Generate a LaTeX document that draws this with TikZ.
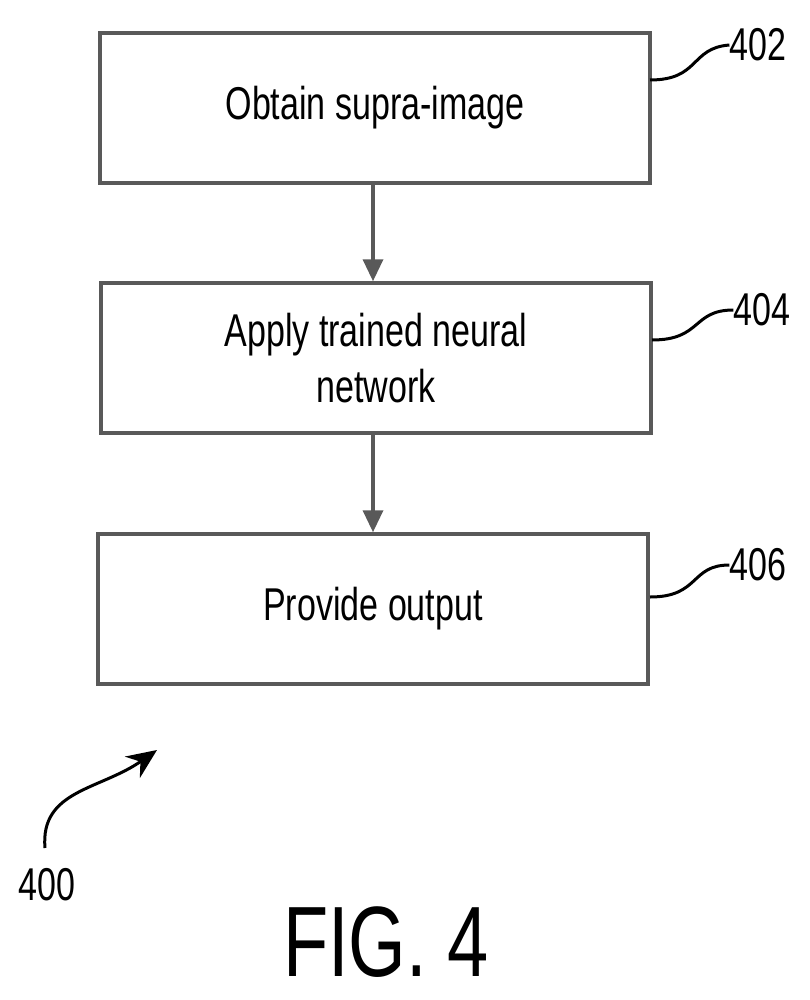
\documentclass[tikz,border=0pt]{standalone}
\usepackage{fontspec}
\setmainfont{Liberation Sans}[FakeStretch=0.74]
\usetikzlibrary{arrows.meta}
\begin{document}
\begin{tikzpicture}[x=1pt,y=-1pt,
  box/.style={draw,line width=3.5pt,draw=black!65,minimum width=550pt,minimum height=150pt,align=center,font=\fontsize{46}{56}\selectfont,inner sep=0pt},
  lbl/.style={font=\fontsize{46}{50}\selectfont,inner sep=0pt},
  conn/.style={line width=3.5pt,draw=black!65,-{Triangle[length=22pt,width=20pt]}},
  lead/.style={line width=3pt}]
\useasboundingbox (0,0) rectangle (810,1000);
\node[box] (b1) at (375,108) {Obtain supra-image};
\node[box] (b2) at (376,358) {Apply trained neural\\network};
\node[box] (b3) at (373,609) {Provide output};
\draw[conn] (b1.south -| 373,0) -- (b2.north -| 373,0);
\draw[conn] (b2.south -| 373,0) -- (b3.north -| 373,0);
\node[lbl] (l1) at (758,45) {402};
\node[lbl] (l2) at (762,310) {404};
\node[lbl] (l3) at (758,565) {406};
\coordinate (c1) at (650,80);
\coordinate (c2) at (652,340);
\coordinate (c3) at (650,597);
\draw[lead] (c1) .. controls (700,80) and (690,48) .. (l1.west);
\draw[lead] (c2) .. controls (702,340) and (692,310) .. (l2.west);
\draw[lead] (c3) .. controls (700,597) and (690,565) .. (l3.west);
\node[lbl] (n400) at (47,885) {400};
\coordinate (a0) at (45,848);
\coordinate (a1) at (157,750);
\draw[lead,-{Stealth[length=30pt,width=26pt]}] (a0) .. controls (40,790) and (100,790) .. (a1);
\node[font=\fontsize{100}{100}\selectfont,inner sep=0pt] (fig) at (386,942) {FIG. 4};
\end{tikzpicture}
\end{document}
